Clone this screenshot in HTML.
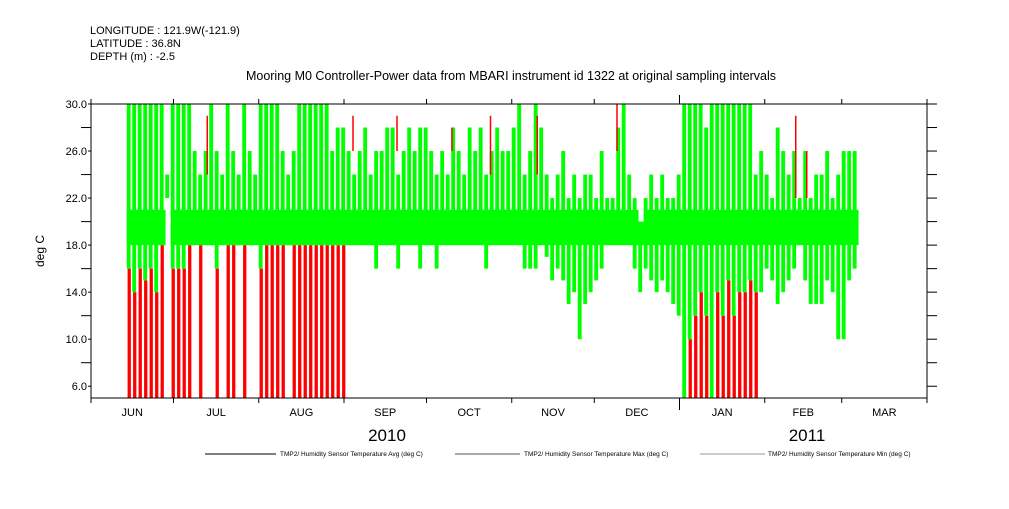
<!DOCTYPE html>
<html><head><meta charset="utf-8"><style>
body{margin:0;background:#fff;width:1009px;height:504px;overflow:hidden}
svg text{font-family:"Liberation Sans",sans-serif;fill:#000}
</style></head><body>
<svg id="chart" width="1009" height="504" viewBox="0 0 1009 504" xmlns="http://www.w3.org/2000/svg">
<text x="90" y="34" font-size="11">LONGITUDE : 121.9W(-121.9)</text>
<text x="90" y="47" font-size="11">LATITUDE : 36.8N</text>
<text x="90" y="60" font-size="11">DEPTH (m) : -2.5</text>
<text x="511" y="80" font-size="12.5" text-anchor="middle">Mooring M0 Controller-Power data from MBARI instrument id 1322 at original sampling intervals</text>
<text x="44" y="251" font-size="12" text-anchor="middle" transform="rotate(-90 44 251)">deg C</text>
<g id="marks"></g>
<g id="axes"></g>
<text x="387" y="441" font-size="17" text-anchor="middle">2010</text>
<text x="807" y="441" font-size="17" text-anchor="middle">2011</text>
<g>
<line x1="205" y1="454" x2="276" y2="454" stroke="#000" stroke-width="1"/>
<text x="280" y="456" font-size="6.5">TMP2/ Humidity Sensor Temperature Avg (deg C)</text>
<line x1="455" y1="454" x2="520" y2="454" stroke="#555" stroke-width="1"/>
<text x="524" y="456" font-size="6.5">TMP2/ Humidity Sensor Temperature Max (deg C)</text>
<line x1="700" y1="454" x2="765" y2="454" stroke="#999" stroke-width="1"/>
<text x="768" y="456" font-size="6.5">TMP2/ Humidity Sensor Temperature Min (deg C)</text>
</g>
</svg>
<script>
const startDay = 13, stepDays = 2;
const greenHi = [30,30,30,30,30,30,30,24,30, 30,30,30,
26,24,26,30,26,24,30,26,24,30,26,24,
30,30,30,30,26,24,26,30,30,30,30,30,30,26,28,
28,26,24,26,28,24,26,26,28,28,24,26,28,26,28,
28,26,24,26,24,28,26,24,28,26,28,24,26,28,26,
26,28,30,24,26,30,28,24,22,24,26,22,24,22,24,
24,22,26,22,22,28,30,24,22,20,22,24,22,24,22,
22,24,30,30,30,30,28,30,30,30,30,30,30,30,30,24,
26,24,22,28,26,24,26,22,26,22,24,24,26,22,24,26,26,26];
const greenLo = [16,14,16,15,16,14,18,22,16, 16,16,18,
18,18,18,18,16,18,18,18,18,18,18,18,
16,18,18,18,18,18,18,18,18,18,18,18,18,18,18,
18,18,18,18,18,18,16,18,18,18,16,18,18,18,16,
18,18,16,18,18,18,18,18,18,18,18,16,18,18,18,
18,18,18,16,16,16,18,17,15,16,15,13,14,10,13,
14,15,16,18,18,18,18,18,16,14,16,15,14,15,14,
13,12,5,10,12,14,12,5,14,12,15,12,14,14,15,14,
14,16,15,13,14,15,16,18,15,13,13,13,15,14,10,10,15,16];
const redMin = [5,5,5,5,5,5,5,0,5, 5,5,5,
0,5,0,0,5,0,5,5,0,5,0,0,
5,5,5,5,5,0,5,5,5,5,5,5,5,5,5,
5,0,0,0,0,0,0,0,0,0,0,0,0,0,0,
0,0,0,0,0,0,0,0,0,0,0,0,0,0,0,
0,0,0,0,0,0,0,0,0,0,0,0,0,0,0,
0,0,0,0,0,0,0,0,0,0,0,0,0,0,0,
0,0,0,5,5,5,5,5,5,5,5,5,5,5,5,5,
0,0,0,0,0,0,0,0,0,0,0,0,0,0,0,0,0,0];
const spikeDay = [42,95,111,131,145,162,191,256,260];
const spikeLo = [24,26,26,26,24,24,26,22,22];
const spikeHi = [29,29,29,28,29,29,30,29,26];
const months = ["JUN","JUL","AUG","SEP","OCT","NOV","DEC","JAN","FEB","MAR"];
const monthStart = [0,30,61,92,122,153,183,214,245,273,304];
const yTicks = [6,10,14,18,22,26,30];

const X0=91,X1=927,Y0=104,Y1=398,D=304,VMIN=5,VMAX=30;
const xs=d=>X0+(X1-X0)*d/D;
const ys=v=>Y1-(Y1-Y0)*(v-VMIN)/(VMAX-VMIN);
const NS="http://www.w3.org/2000/svg";
const marks=document.getElementById('marks'), axes=document.getElementById('axes');
function mk(tag,attrs,parent){const e=document.createElementNS(NS,tag);for(const k in attrs)e.setAttribute(k,attrs[k]);parent.appendChild(e);return e;}
const step=(X1-X0)/D*stepDays;
for(let i=0;i<greenHi.length;i++){
  const d=startDay+stepDays*i;
  if(redMin[i]>0){
    const top=Math.min(greenLo[i],18);
    const r=mk('rect',{x:xs(d)+step*0.15,y:ys(top),width:step*0.6,height:ys(redMin[i])-ys(top),fill:'#ff0000'},marks);
    
    
  }
}
for(let i=0;i<greenHi.length;i++){
  const d=startDay+stepDays*i;
  const g=mk('rect',{x:xs(d),y:ys(greenHi[i]),width:step*0.7,height:ys(greenLo[i])-ys(greenHi[i]),fill:'#00ff00'},marks);
  
  
  const cHi=Math.min(greenHi[i],21), cLo=Math.max(greenLo[i],18);
  if(cHi>cLo){
    const c=mk('rect',{x:xs(d),y:ys(cHi),width:step+0.3,height:ys(cLo)-ys(cHi),fill:'#00ff00'},marks);
    
    
  }
}
for(let i=0;i<spikeDay.length;i++){
  const s=mk('rect',{x:xs(spikeDay[i]),y:ys(spikeHi[i]),width:1.5,height:ys(spikeLo[i])-ys(spikeHi[i]),fill:'#ff0000'},marks);
  
  
}
const fr=mk('rect',{x:X0,y:Y0,width:X1-X0,height:Y1-Y0,fill:'none',stroke:'#000','stroke-width':1},axes);


for(let v=6;v<=30;v+=2){
  mk('line',{x1:X0-10,y1:ys(v),x2:X0,y2:ys(v),stroke:'#000'},axes);
  mk('line',{x1:X1,y1:ys(v),x2:X1+10,y2:ys(v),stroke:'#000'},axes);
}
yTicks.forEach(v=>{
  const t=mk('text',{x:X0-4,y:ys(v)+4,'font-size':11,'text-anchor':'end',stroke:'#fff','stroke-width':3,'paint-order':'stroke'},axes);
  t.textContent=v.toFixed(1);
  
  
});
monthStart.forEach((d,i)=>{
  const big=(d===214);
  mk('line',{x1:xs(d),y1:Y1,x2:xs(d),y2:Y1+(big?12:5),stroke:'#000'},axes);
  mk('line',{x1:xs(d),y1:Y0,x2:xs(d),y2:Y0-(big?9:5),stroke:'#000'},axes);
  if(i<months.length){
    const t=mk('text',{x:xs((d+monthStart[i+1])/2),y:416,'font-size':11,'text-anchor':'middle'},axes);
    t.textContent=months[i];
    
    
  }
});
</script>
</body></html>
